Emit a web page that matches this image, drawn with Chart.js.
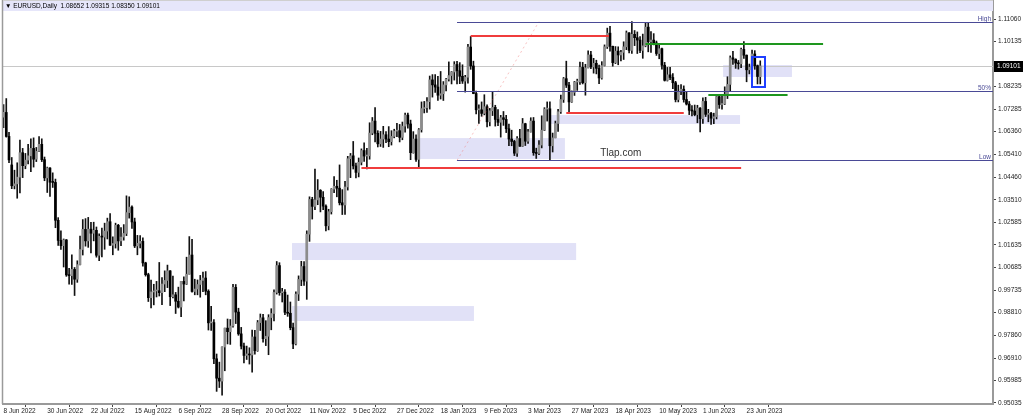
<!DOCTYPE html>
<html>
<head>
<meta charset="utf-8">
<script src="https://cdn.jsdelivr.net/npm/chart.js@4.4.0/dist/chart.umd.min.js"></script>
<style>
    body { margin: 0; background: #ffffff; }
    canvas { display: block; }
</style>
</head>
<body>
<canvas id="eurusdChart" width="1024" height="418"></canvas>
<script>
// EURUSD daily, 8 Jun 2022 .. 30 Jun 2023, one entry per trading day
const opens = [
    // Jun 2022
    1.0696,1.0716,1.0616,1.0497,1.0410,1.0418,1.0446,1.0548,1.0494,1.0517,1.0535,1.0566,1.0521,1.0554,1.0583,1.0519,1.0443,
    // Jul 2022
    1.0484,1.0425,1.0424,1.0266,1.0182,1.0160,1.0184,1.0038,1.0035,1.0061,1.0020,1.0081,1.0144,1.0228,1.0180,1.0229,1.0212,1.0224,1.0120,1.0199,1.0196,
    // Aug 2022
    1.0221,1.0260,1.0162,1.0169,1.0245,1.0180,1.0196,1.0211,1.0298,1.0321,1.0259,1.0159,1.0170,1.0178,1.0088,1.0039,0.9943,0.9967,0.9971,0.9972,0.9964,1.0000,1.0015,
    // Sep 2022
    1.0055,0.9947,0.9955,0.9928,0.9904,1.0011,1.0000,1.0041,1.0121,0.9969,0.9979,0.9998,1.0015,1.0025,0.9970,0.9838,0.9839,0.9688,0.9607,0.9595,0.9737,0.9816,
    // Oct 2022
    0.9801,0.9825,0.9986,0.9883,0.9792,0.9741,0.9702,0.9708,0.9704,0.9779,0.9722,0.9839,0.9859,0.9772,0.9782,0.9860,0.9877,0.9965,1.0077,0.9964,0.9966,
    // Nov 2022
    0.9882,0.9878,0.9818,0.9750,0.9958,1.0019,1.0073,1.0012,1.0208,1.0353,1.0324,1.0351,1.0391,1.0362,1.0325,1.0243,1.0302,1.0396,1.0408,1.0400,1.0339,1.0330,
    // Dec 2022
    1.0405,1.0523,1.0535,1.0493,1.0466,1.0508,1.0557,1.0534,1.0535,1.0630,1.0680,1.0629,1.0585,1.0605,1.0623,1.0605,1.0594,1.0616,1.0638,1.0640,1.0612,1.0659,
    // Jan 2023
    1.0705,1.0668,1.0548,1.0605,1.0520,1.0644,1.0732,1.0736,1.0761,1.0852,1.0831,1.0822,1.0788,1.0794,1.0831,1.0855,1.0870,1.0885,1.0916,1.0890,1.0867,1.0847,
    // Feb 2023
    1.0863,1.0989,1.0910,1.0795,1.0727,1.0727,1.0712,1.0740,1.0677,1.0723,1.0737,1.0687,1.0675,1.0694,1.0687,1.0648,1.0605,1.0595,1.0546,1.0607,
    // Mar 2023
    1.0575,1.0669,1.0596,1.0635,1.0680,1.0548,1.0545,1.0580,1.0642,1.0730,1.0731,1.0577,1.0610,1.0670,1.0719,1.0770,1.0857,1.0830,1.0760,1.0800,1.0843,1.0844,1.0904,
    // Apr 2023
    1.0840,1.0902,1.0956,1.0906,1.0921,1.0900,1.0860,1.0912,1.0990,1.1047,1.0992,1.0924,1.0972,1.0956,1.0967,1.0990,1.1048,1.0975,1.1042,1.1028,
    // May 2023
    1.1018,1.0975,1.0994,1.1072,1.1011,1.1018,1.1006,1.0962,1.0982,1.0913,1.0850,1.0873,1.0862,1.0840,1.0770,1.0804,1.0813,1.0770,1.0751,1.0725,1.0722,1.0707,1.0734,
    // Jun 2023
    1.0690,1.0762,1.0708,1.0712,1.0692,1.0698,1.0782,1.0749,1.0752,1.0791,1.0833,1.0944,1.0938,1.0922,1.0919,1.0979,1.0955,1.0894,1.0905,1.0960,1.0911,1.08652
];
const highs = [
    1.0749,1.0774,1.0633,1.0528,1.0475,1.0506,1.0601,1.0566,1.0545,1.0583,1.0606,1.0610,1.0570,1.0615,1.0606,1.0530,1.0488,
    1.0486,1.0464,1.0438,1.0277,1.0222,1.0188,1.0186,1.0065,1.0122,1.0069,1.0097,1.0200,1.0269,1.0273,1.0278,1.0257,1.0258,1.0238,1.0209,1.0233,1.0254,
    1.0275,1.0294,1.0197,1.0254,1.0249,1.0236,1.0248,1.0368,1.0364,1.0326,1.0275,1.0203,1.0202,1.0193,1.0091,1.0045,1.0016,0.9999,1.0011,1.0090,1.0027,1.0055,1.0079,
    1.0056,1.0033,0.9965,0.9987,1.0011,1.0030,1.0112,1.0198,1.0187,1.0020,1.0017,1.0036,1.0050,1.0052,0.9976,0.9907,0.9852,0.9708,0.9674,0.9738,0.9816,0.9854,
    0.9852,0.9999,0.9998,0.9899,0.9819,0.9754,0.9741,0.9734,0.9808,0.9807,0.9848,0.9875,0.9873,0.9847,0.9872,0.9897,0.9976,1.0094,1.0089,0.9982,0.9977,
    0.9954,0.9925,0.9837,0.9967,1.0034,1.0095,1.0094,1.0222,1.0364,1.0362,1.0480,1.0436,1.0394,1.0386,1.0330,1.0312,1.0398,1.0448,1.0433,1.0497,1.0394,1.0429,
    1.0533,1.0545,1.0595,1.0505,1.0526,1.0564,1.0589,1.0566,1.0673,1.0695,1.0736,1.0640,1.0637,1.0658,1.0636,1.0657,1.0640,1.0646,1.0671,1.0666,1.0676,1.0713,
    1.0713,1.0684,1.0636,1.0623,1.0649,1.0760,1.0762,1.0778,1.0868,1.0874,1.0874,1.0867,1.0887,1.0845,1.0858,1.0927,1.0887,1.0928,1.0929,1.0924,1.0915,1.0871,
    1.1000,1.1033,1.0930,1.0805,1.0748,1.0760,1.0790,1.0748,1.0733,1.0804,1.0746,1.0728,1.0704,1.0720,1.0704,1.0667,1.0642,1.0600,1.0615,1.0646,
    1.0691,1.0671,1.0646,1.0694,1.0695,1.0567,1.0599,1.0702,1.0736,1.0760,1.0760,1.0630,1.0680,1.0729,1.0788,1.0862,1.0930,1.0842,1.0806,1.0846,1.0855,1.0926,1.0925,
    1.0917,1.0973,1.0971,1.0942,1.0934,1.0914,1.0928,1.0998,1.1068,1.1075,1.0993,1.0991,1.0990,1.0975,1.1011,1.1056,1.1049,1.1095,1.1058,1.1052,
    1.1033,1.1043,1.1091,1.1092,1.1054,1.1045,1.1014,1.1004,1.0985,1.0925,1.0904,1.0904,1.0878,1.0846,1.0830,1.0832,1.0827,1.0804,1.0762,1.0745,1.0747,1.0746,1.0736,
    1.0777,1.0779,1.0729,1.0716,1.0713,1.0787,1.0786,1.0785,1.0823,1.0865,1.0952,1.0971,1.0940,1.0933,1.0985,1.1012,1.0956,1.0918,1.0976,1.0974,1.0914,1.09315
];
const lows = [
    1.0653,1.0613,1.0506,1.0398,1.0397,1.0358,1.0380,1.0444,1.0481,1.0501,1.0469,1.0488,1.0511,1.0552,1.0511,1.0431,1.0382,
    1.0366,1.0403,1.0235,1.0161,1.0144,1.0071,1.0032,0.9999,0.9998,0.9952,1.0007,1.0080,1.0121,1.0158,1.0153,1.0130,1.0180,1.0112,1.0097,1.0113,1.0145,
    1.0188,1.0161,1.0122,1.0150,1.0141,1.0160,1.0183,1.0202,1.0275,1.0232,1.0152,1.0122,1.0151,1.0074,1.0033,0.9927,0.9900,0.9913,0.9946,0.9950,0.9914,0.9968,0.9985,
    0.9910,0.9942,0.9877,0.9900,0.9864,0.9930,0.9998,1.0041,0.9966,0.9955,0.9955,0.9945,0.9968,0.9955,0.9808,0.9806,0.9668,0.9552,0.9568,0.9536,0.9638,0.9750,
    0.9748,0.9820,0.9835,0.9786,0.9729,0.9671,0.9685,0.9666,0.9632,0.9707,0.9719,0.9806,0.9757,0.9743,0.9705,0.9809,0.9846,0.9958,0.9953,0.9925,0.9872,
    0.9865,0.9809,0.9730,0.9746,0.9931,0.9993,0.9994,0.9936,1.0178,1.0271,1.0310,1.0331,1.0301,1.0310,1.0222,1.0226,1.0292,1.0381,1.0364,1.0330,1.0290,1.0290,
    1.0392,1.0444,1.0480,1.0443,1.0447,1.0497,1.0512,1.0480,1.0521,1.0623,1.0593,1.0572,1.0574,1.0570,1.0590,1.0573,1.0580,1.0610,1.0615,1.0593,1.0602,1.0634,
    1.0650,1.0519,1.0546,1.0512,1.0483,1.0634,1.0714,1.0716,1.0730,1.0780,1.0800,1.0766,1.0772,1.0766,1.0806,1.0847,1.0835,1.0851,1.0835,1.0836,1.0837,1.0801,
    1.0838,1.0896,1.0794,1.0710,1.0670,1.0700,1.0706,1.0656,1.0660,1.0703,1.0659,1.0661,1.0613,1.0662,1.0632,1.0577,1.0577,1.0536,1.0533,1.0574,
    1.0574,1.0578,1.0587,1.0634,1.0537,1.0524,1.0540,1.0568,1.0640,1.0680,1.0516,1.0551,1.0610,1.0637,1.0712,1.0758,1.0820,1.0714,1.0758,1.0787,1.0808,1.0833,1.0835,
    1.0788,1.0902,1.0899,1.0880,1.0877,1.0836,1.0855,1.0910,1.0983,1.0972,1.0909,1.0920,1.0915,1.0931,1.0937,1.0978,1.0964,1.0962,1.0995,1.0962,
    1.0966,1.0942,1.0990,1.0969,1.0967,1.0998,1.0954,1.0940,1.0897,1.0847,1.0847,1.0853,1.0815,1.0760,1.0760,1.0790,1.0759,1.0747,1.0707,1.0702,1.0702,1.0673,1.0635,
    1.0670,1.0699,1.0677,1.0666,1.0669,1.0689,1.0733,1.0730,1.0749,1.0774,1.0805,1.0916,1.0900,1.0897,1.0903,1.0941,1.0844,1.0877,1.0898,1.0896,1.0835,1.08350
];
const closes = [
    1.0716,1.0616,1.0518,1.0410,1.0418,1.0446,1.0548,1.0494,1.0517,1.0535,1.0566,1.0521,1.0554,1.0583,1.0519,1.0443,1.0484,
    1.0425,1.0424,1.0266,1.0182,1.0160,1.0184,1.0038,1.0035,1.0061,1.0020,1.0081,1.0144,1.0228,1.0180,1.0229,1.0212,1.0224,1.0120,1.0199,1.0196,1.0221,
    1.0260,1.0162,1.0169,1.0245,1.0180,1.0196,1.0211,1.0298,1.0321,1.0259,1.0159,1.0170,1.0178,1.0088,1.0039,0.9943,0.9967,0.9971,0.9972,0.9964,1.0000,1.0015,1.0055,
    0.9947,0.9955,0.9928,0.9904,1.0011,1.0000,1.0041,1.0121,0.9969,0.9979,0.9998,1.0015,1.0025,0.9970,0.9838,0.9839,0.9688,0.9607,0.9595,0.9737,0.9816,0.9801,
    0.9825,0.9986,0.9883,0.9792,0.9741,0.9702,0.9708,0.9704,0.9779,0.9722,0.9839,0.9859,0.9772,0.9782,0.9860,0.9877,0.9965,1.0077,0.9964,0.9966,0.9882,
    0.9878,0.9818,0.9750,0.9958,1.0019,1.0073,1.0012,1.0208,1.0353,1.0324,1.0351,1.0391,1.0362,1.0325,1.0243,1.0302,1.0396,1.0408,1.0400,1.0339,1.0330,1.0405,
    1.0523,1.0535,1.0493,1.0466,1.0508,1.0557,1.0534,1.0535,1.0630,1.0680,1.0629,1.0585,1.0605,1.0623,1.0605,1.0594,1.0616,1.0638,1.0640,1.0612,1.0659,1.0705,
    1.0668,1.0548,1.0605,1.0520,1.0644,1.0732,1.0736,1.0761,1.0852,1.0831,1.0822,1.0788,1.0794,1.0831,1.0855,1.0870,1.0885,1.0916,1.0890,1.0867,1.0847,1.0863,
    1.0989,1.0910,1.0795,1.0727,1.0727,1.0712,1.0740,1.0677,1.0723,1.0737,1.0687,1.0675,1.0694,1.0687,1.0648,1.0605,1.0595,1.0546,1.0607,1.0575,
    1.0669,1.0596,1.0635,1.0680,1.0548,1.0545,1.0580,1.0642,1.0730,1.0731,1.0577,1.0610,1.0670,1.0719,1.0770,1.0857,1.0830,1.0760,1.0800,1.0843,1.0844,1.0904,1.0840,
    1.0902,1.0956,1.0906,1.0921,1.0900,1.0860,1.0912,1.0990,1.1047,1.0992,1.0924,1.0972,1.0956,1.0967,1.0990,1.1048,1.0975,1.1042,1.1028,1.1018,
    1.0975,1.0994,1.1072,1.1011,1.1018,1.1006,1.0962,1.0982,1.0913,1.0850,1.0873,1.0862,1.0840,1.0770,1.0804,1.0813,1.0770,1.0751,1.0725,1.0722,1.0707,1.0734,1.0690,
    1.0762,1.0708,1.0712,1.0692,1.0698,1.0782,1.0749,1.0752,1.0791,1.0833,1.0944,1.0938,1.0922,1.0919,1.0979,1.0955,1.0894,1.0905,1.0960,1.0911,1.0866,1.09101
];

// time axis labels (every 16th bar) and price axis labels
const tickIndex = [0, 16, 32, 48, 64, 80, 96, 112, 128, 144, 160, 176, 192, 208, 224, 240, 256, 272];
const tickLabels = ['8 Jun 2022', '30 Jun 2022', '22 Jul 2022', '15 Aug 2022', '6 Sep 2022', '28 Sep 2022',
    '20 Oct 2022', '11 Nov 2022', '5 Dec 2022', '27 Dec 2022', '18 Jan 2023', '9 Feb 2023', '3 Mar 2023',
    '27 Mar 2023', '18 Apr 2023', '10 May 2023', '1 Jun 2023', '23 Jun 2023'];
const priceTicks = [1.11060, 1.10135, 1.08235, 1.07285, 1.06360, 1.05410, 1.04460, 1.03510, 1.02585,
    1.01635, 1.00685, 0.99735, 0.98810, 0.97860, 0.96910, 0.95985, 0.95035];
const lastPrice = 1.09101;
const titleText = '\u25BC EURUSD,Daily  1.08652 1.09315 1.08350 1.09101';

// drawn objects, in bar index / price
const redFrom = [171, 206, 131];
const redTo = [221.6, 249, 270];
const redLevel = [1.1033, 1.0714, 1.0483];
const greenFrom = [235, 258];
const greenTo = [300, 287];
const greenLevel = [1.1002, 1.0789];
const fibFrom = 166;
const fibDiagTo = 196;
const fibHigh = 1.1095;
const fibLow = 1.0516;
const zoneFrom = [105.6, 105.6, 151.7, 200.0, 263.4];
const zoneTo = [209.6, 172.2, 205.5, 269.6, 288.6];
const zoneTop = [1.0171, 0.9908, 1.0609, 1.0705, 1.0914];
const zoneBottom = [1.0100, 0.9846, 1.0522, 1.0668, 1.0864];
const boxFrom = 274.0, boxTo = 278.8, boxTop = 1.0947, boxBottom = 1.0822;
const watermark = { text: 'Tlap.com', at: 218.4, price: 1.0547 };

const tinyFont = '6.5px "Liberation Sans", "DejaVu Sans", sans-serif';

const bodyData = opens.map((o, i) => ({ x: i, y: [o, closes[i]] }));
const wickData = lows.map((l, i) => ({ x: i, y: [l, highs[i]] }));
const bodyColors = opens.map((o, i) => closes[i] >= o ? '#8c8c8c' : '#000000');

const mt4Objects = {
    id: 'mt4Objects',
    beforeDatasetsDraw(chart) {
        const { ctx, chartArea: a, scales: { x, y } } = chart;
        ctx.save();
        ctx.beginPath();
        ctx.rect(a.left, a.top, a.right - a.left, a.bottom - a.top);
        ctx.clip();
        // header strip
        ctx.fillStyle = '#e6e6fa';
        ctx.fillRect(a.left, a.top, a.right - a.left, 11);
        // zones
        ctx.fillStyle = '#e1e1f7';
        for (let i = 0; i < zoneFrom.length; i++) {
            const x0 = x.getPixelForValue(zoneFrom[i]);
            const x1 = x.getPixelForValue(zoneTo[i]);
            const y0 = y.getPixelForValue(zoneTop[i]);
            const y1 = y.getPixelForValue(zoneBottom[i]);
            ctx.fillRect(x0, y0, x1 - x0, y1 - y0);
        }
        // last price line
        const yp = Math.round(y.getPixelForValue(lastPrice)) + 0.5;
        ctx.strokeStyle = '#c8c8c8';
        ctx.lineWidth = 1;
        ctx.beginPath();
        ctx.moveTo(a.left, yp);
        ctx.lineTo(a.right, yp);
        ctx.stroke();
        ctx.restore();
    },
    afterDatasetsDraw(chart) {
        const { ctx, chartArea: a, scales: { x, y } } = chart;
        ctx.save();
        const hline = (from, to, level, color, width) => {
            let yy = Math.round(y.getPixelForValue(level));
            if (width % 2 === 1) yy += 0.5;
            ctx.strokeStyle = color;
            ctx.lineWidth = width;
            ctx.beginPath();
            ctx.moveTo(x.getPixelForValue(from), yy);
            ctx.lineTo(Math.min(a.right, x.getPixelForValue(to)), yy);
            ctx.stroke();
        };
        // fibonacci
        ctx.setLineDash([2, 3]);
        ctx.strokeStyle = 'rgba(240,120,120,0.45)';
        ctx.lineWidth = 1;
        ctx.beginPath();
        ctx.moveTo(x.getPixelForValue(fibFrom), y.getPixelForValue(fibLow));
        ctx.lineTo(x.getPixelForValue(fibDiagTo), y.getPixelForValue(fibHigh));
        ctx.stroke();
        ctx.setLineDash([]);
        const fibMid = (fibHigh + fibLow) / 2;
        [[fibHigh, 'High'], [fibMid, '50%'], [fibLow, 'Low']].forEach(([lv, name]) => {
            hline(fibFrom, 1000, lv, '#4a4a96', 1);
            ctx.fillStyle = '#4a4a96';
            ctx.font = tinyFont;
            ctx.textAlign = 'right';
            ctx.textBaseline = 'bottom';
            ctx.fillText(name, a.right - 2, Math.round(y.getPixelForValue(lv)));
        });
        for (let i = 0; i < redLevel.length; i++) hline(redFrom[i], redTo[i], redLevel[i], '#f03c3c', 2);
        for (let i = 0; i < greenLevel.length; i++) hline(greenFrom[i], greenTo[i], greenLevel[i], '#1e961e', 2);
        // blue box
        ctx.strokeStyle = '#1f3fff';
        ctx.lineWidth = 2;
        const bx0 = Math.round(x.getPixelForValue(boxFrom)), bx1 = Math.round(x.getPixelForValue(boxTo));
        const by0 = Math.round(y.getPixelForValue(boxTop)), by1 = Math.round(y.getPixelForValue(boxBottom));
        ctx.strokeRect(bx0, by0, bx1 - bx0, by1 - by0);
        // watermark
        ctx.fillStyle = '#333333';
        ctx.font = '10px "Liberation Sans", Arial, sans-serif';
        ctx.textAlign = 'left';
        ctx.textBaseline = 'middle';
        ctx.fillText(watermark.text, x.getPixelForValue(watermark.at), y.getPixelForValue(watermark.price));
        ctx.restore();
    },
    afterDraw(chart) {
        const { ctx, chartArea: a, scales: { y } } = chart;
        ctx.save();
        ctx.strokeStyle = '#9a9a9a';
        ctx.lineWidth = 1.5;
        ctx.beginPath();
        ctx.moveTo(a.left - 0.5, a.top);
        ctx.lineTo(a.left - 0.5, a.bottom);
        ctx.stroke();
        ctx.strokeStyle = '#cfcfcf';
        ctx.lineWidth = 1;
        ctx.beginPath();
        ctx.moveTo(a.left, a.top + 0.5);
        ctx.lineTo(a.right, a.top + 0.5);
        ctx.stroke();
        // title
        ctx.fillStyle = '#000000';
        ctx.font = tinyFont;
        ctx.textAlign = 'left';
        ctx.textBaseline = 'middle';
        ctx.fillText(titleText, a.left + 2, a.top + 6);
        // last price tag
        const yp = Math.round(y.getPixelForValue(lastPrice)) + 0.5;
        ctx.fillStyle = '#000000';
        ctx.fillRect(a.right + 1, yp - 5.5, 29, 11);
        ctx.fillStyle = '#ffffff';
        ctx.textBaseline = 'middle';
        ctx.fillText(lastPrice.toFixed(5), a.right + 4, yp);
        ctx.restore();
    }
};

new Chart(document.getElementById('eurusdChart'), {
    type: 'bar',
    data: {
        datasets: [{
            label: 'body',
            data: bodyData,
            backgroundColor: bodyColors,
            barThickness: 2,
            minBarLength: 1,
            grouped: false,
            order: 0
        }, {
            label: 'wick',
            data: wickData,
            backgroundColor: '#111111',
            barThickness: 1,
            grouped: false,
            order: 1
        }]
    },
    options: {
        responsive: false,
        animation: false,
        events: [],
        layout: { padding: { left: 3, top: 0, right: 0, bottom: 0 } },
        plugins: { legend: { display: false }, tooltip: { enabled: false } },
        scales: {
            x: {
                type: 'linear',
                bounds: 'data',
                min: -0.2,
                max: 362.2,
                offset: false,
                grid: { drawOnChartArea: false, drawTicks: true, tickLength: 3, color: '#444444' },
                border: { display: true, color: '#9a9a9a', width: 2 },
                ticks: {
                    autoSkip: false,
                    maxRotation: 0,
                    align: 'start',
                    padding: 0,
                    color: '#222222',
                    font: { family: '"Liberation Sans", "DejaVu Sans", sans-serif', size: 6.5 },
                    callback: (v) => tickLabels[tickIndex.indexOf(v)] ?? ''
                },
                afterBuildTicks: (s) => { s.ticks = tickIndex.map(v => ({ value: v })); },
                afterFit: (s) => { s.height = 14; s.paddingLeft = 0; s.paddingRight = 0; }
            },
            y: {
                position: 'right',
                bounds: 'data',
                min: 0.94993,
                max: 1.11853,
                grid: { drawOnChartArea: false, drawTicks: true, tickLength: 3, color: '#444444' },
                border: { display: true, color: '#9a9a9a', width: 2 },
                ticks: {
                    padding: 2,
                    color: '#222222',
                    font: { family: '"Liberation Sans", "DejaVu Sans", sans-serif', size: 6.5 },
                    callback: (v) => Number(v).toFixed(5)
                },
                afterBuildTicks: (s) => { s.ticks = priceTicks.map(v => ({ value: v })); },
                afterFit: (s) => { s.width = 31; s.paddingTop = 0; s.paddingBottom = 0; }
            }
        }
    },
    plugins: [mt4Objects]
});
</script>
</body>
</html>
